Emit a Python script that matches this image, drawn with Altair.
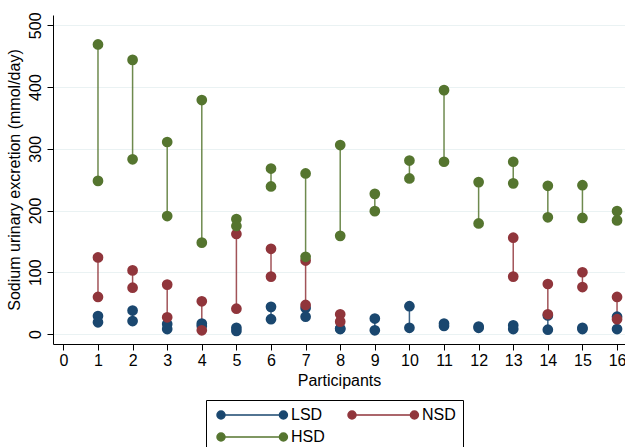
import altair as alt
import pandas as pd

participants = list(range(1, 17))
groups = ["LSD", "NSD", "HSD"]
colors = ["#1a476f", "#90353b", "#55752f"]

lsd_first = [29, 38, 16, 17, 10, 44, 42, 9, 25, 45, 17, 12, 14, 30, 10, 28]
lsd_second = [19, 21, 8, 13, 5, 24, 28, 8, 6, 10, 13, 10, 8, 7, 8, 8]
nsd_first = [124, 103, 80, 53, 162, 138, 119, 32, None, None, None, None, 156, 81, 100, 60]
nsd_second = [60, 75, 27, 6, 41, 93, 47, 20, None, None, None, None, 93, 32, 76, 24]
hsd_first = [469, 444, 311, 379, 186, 268, 260, 306, 227, 281, 395, 246, 279, 240, 241, 199]
hsd_second = [248, 283, 191, 148, 175, 239, 125, 159, 199, 252, 279, 179, 244, 189, 188, 184]

y_ticks = [0, 100, 200, 300, 400, 500]
x_ticks = list(range(0, 17))

series = {
    "LSD": (lsd_first, lsd_second),
    "NSD": (nsd_first, nsd_second),
    "HSD": (hsd_first, hsd_second),
}
rows = []
for g in groups:
    a, b = series[g]
    for p, v1, v2 in zip(participants, a, b):
        for v in (v1, v2):
            if v is not None:
                rows.append({"participant": p, "group": g, "value": v, "key": f"{g}-{p}"})
df = pd.DataFrame(rows)

FONT = "Liberation Sans"

legend_path = ("M -1 0 A 1 1 0 1 1 1 0 A 1 1 0 1 1 -1 0 Z "
               "M 0 0 L 15.6 0 "
               "M 14.6 0 A 1 1 0 1 1 16.6 0 A 1 1 0 1 1 14.6 0 Z")

xenc = alt.X("participant:Q",
             scale=alt.Scale(domain=[-0.3, 16.23], nice=False, zero=False),
             axis=alt.Axis(values=x_ticks, title="Participants", grid=False,
                           labelPadding=2, titlePadding=4, format="d"))
yenc = alt.Y("value:Q",
             scale=alt.Scale(domain=[-16.2, 516.7], nice=False, zero=False),
             axis=alt.Axis(values=y_ticks, title="Sodium urinary excretion (mmol/day)",
                           grid=True, labelAngle=270, labelAlign="center",
                           labelBaseline="bottom", labelPadding=4, titlePadding=5))

cscale = alt.Scale(domain=groups, range=colors)

legend = alt.Legend(
    title=None, orient="none", legendX=153, legendY=385, columns=2,
    direction="horizontal",
    symbolType=legend_path, symbolSize=64, symbolStrokeWidth=1.5,
    symbolOpacity=1, labelOffset=62, columnPadding=19, rowPadding=6,
    padding=7, strokeColor="black", fillColor="white",
    labelFont=FONT, labelFontSize=16, labelColor="black",
)

lines = alt.Chart(df).mark_line(strokeWidth=1.5, opacity=0.85).encode(
    x=xenc, y=yenc,
    color=alt.Color("group:N", scale=cscale, sort=groups, legend=legend),
    detail="key:N",
)

points = alt.Chart(df).mark_point(size=115, opacity=1, filled=True).encode(
    x=xenc, y=yenc,
    color=alt.Color("group:N", scale=cscale, legend=legend, sort=groups),
)

chart = alt.layer(lines, points).properties(
    width=572, height=329,
    autosize=alt.AutoSizeParams(type="none"),
    padding={"left": 53, "top": 15, "right": 0, "bottom": 110},
    background="white",
).configure_view(stroke=None).configure_axis(
    domainColor="black", tickColor="black", labelColor="black", titleColor="black",
    labelFont=FONT, titleFont=FONT, labelFontSize=16, titleFontSize=16,
    titleFontWeight="normal", gridColor="#eaf2f3", gridWidth=1.2, tickSize=6,
    domainWidth=1, tickWidth=1,
)

chart.save("out.html", embed_options={"renderer": "svg", "actions": False})
